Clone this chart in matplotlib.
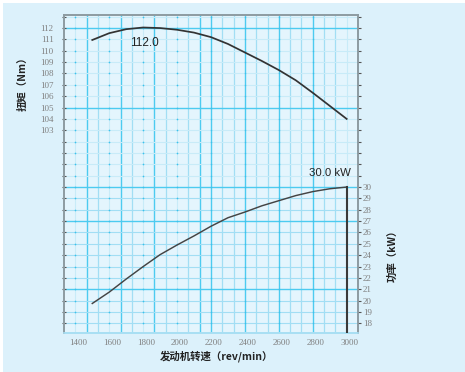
import numpy as np
import matplotlib
matplotlib.use("Agg")
import matplotlib.pyplot as plt
import matplotlib.transforms as mtransforms
from matplotlib.patches import Rectangle

plt.rcParams['font.family'] = ['Noto Sans CJK SC', 'DejaVu Sans']

# engine speed (rev/min)
rpm = [1500, 1600, 1700, 1800, 1900, 2000, 2100, 2200, 2300, 2400,
       2500, 2600, 2700, 2800, 2900, 3000]
# torque (Nm)
torque = [110.95, 111.55, 111.9, 112.05, 112.0, 111.85, 111.6, 111.2, 110.6, 109.85,
          109.1, 108.3, 107.4, 106.3, 105.15, 104.0]
# power (kW)
power = [19.75, 20.75, 21.9, 23.0, 24.05, 24.9, 25.7, 26.55, 27.3, 27.8,
         28.35, 28.8, 29.25, 29.6, 29.85, 30.0]

x_ticks = [1400, 1600, 1800, 2000, 2200, 2400, 2600, 2800, 3000]
torque_ticks = [103, 104, 105, 106, 107, 108, 109, 110, 111, 112]
power_ticks = [18, 19, 20, 21, 22, 23, 24, 25, 26, 27, 28, 29, 30]

torque_label = "112.0"
power_label = "30.0 kW"

BG = '#dcf1fb'
PLOT_BG = '#e4f5fd'
BRIGHT = '#4ccbf0'
MEDIUM = '#a2def4'
FAINT = '#c8ebf8'
DARK = '#333333'
TICK_COLOR = '#808080'

fig = plt.figure(figsize=(4.65, 3.72), dpi=100, facecolor=BG)
# thin white strips at the top and left edge
fig.patches.append(Rectangle((0, 1 - 3 / 372), 1, 3 / 372, transform=fig.transFigure,
                             facecolor='white', edgecolor='none', zorder=-1))
fig.patches.append(Rectangle((0, 0), 3 / 465, 1, transform=fig.transFigure,
                             facecolor='white', edgecolor='none', zorder=-1))

ax = fig.add_axes([64 / 465, 1 - 333 / 372, 294 / 465, 318 / 372])
ax.set_facecolor(PLOT_BG)
ax.set_xlim(1333.3, 3066.7)
ax.set_ylim(85.15, 113.15)
ax2 = ax.twinx()
ax2.set_ylim(17.15, 45.15)

# grid: cell = 200/3 rev/min by 1 Nm
step = 200 / 3
vlines = np.arange(1333.3 + step, 3066.7 - 1, step)
bright_v = [1466.7, 1666.7, 1866.7, 2133.3, 2200, 2400, 2600, 2800]
for v in vlines:
    on_tick = min(abs(v - t) for t in x_ticks) < 5
    if min(abs(v - b) for b in bright_v) < 5:
        ax.axvline(v, color=BRIGHT, lw=1.0, zorder=1)
    elif on_tick:
        ax.axvline(v, color=FAINT, lw=0.8, zorder=1)
    else:
        ax.axvline(v, color=MEDIUM, lw=0.9, zorder=1)

bright_h = [112, 105, 98, 95, 89]
for h in range(86, 114):
    if h in bright_h:
        ax.axhline(h, color=BRIGHT, lw=1.0, zorder=1)
    elif h >= 99:
        ax.axhline(h, color=FAINT, lw=0.8, zorder=1)
    else:
        ax.axhline(h, color=MEDIUM, lw=0.8, zorder=1)

dot_x, dot_y = np.meshgrid(x_ticks[:-1], np.arange(86, 114))
ax.scatter(dot_x.ravel(), dot_y.ravel(), s=1.5, color='#3cc2ec', lw=0, zorder=2)

# curves
ax.plot(rpm, torque, color=DARK, lw=1.25, zorder=4)
ax2.plot(rpm, power, color='#444444', lw=1.05, zorder=4)
ax2.plot([rpm[-1], rpm[-1]], [power[-1], 17.15], color='#3a3a3a', lw=1.5, zorder=4)

ax.text(1810, 110.7, torque_label, ha='center', va='center', fontsize=8.5,
        color='#222222', family=['Liberation Sans'], zorder=5)
ax2.text(2900, 31.25, power_label, ha='center', va='center', fontsize=8.2,
         color='#222222', family=['Liberation Sans'], zorder=5)

# axes / spines
for a in (ax, ax2):
    for s in a.spines.values():
        s.set_color('#8d9ba1')
        s.set_linewidth(1.2)
    a.spines['bottom'].set_color('#a8dff3')

ax.set_xticks(x_ticks)
ax.set_xticklabels([str(t) for t in x_ticks])
ax.tick_params(axis='x', length=0, pad=4, labelsize=6.5, labelcolor=TICK_COLOR)
offset = mtransforms.ScaledTranslation(3 / 100, 0, fig.dpi_scale_trans)
for lab in ax.get_xticklabels():
    lab.set_transform(lab.get_transform() + offset)
    lab.set_family(['Liberation Serif'])

ax.set_yticks(range(86, 114))
ax.set_yticklabels([str(t) if t in torque_ticks else '' for t in range(86, 114)])
ax.tick_params(axis='y', direction='inout', length=3, width=0.8, color='#555555',
               pad=6, labelsize=6.5, labelcolor=TICK_COLOR)
for lab in ax.get_yticklabels():
    lab.set_family(['Liberation Serif'])

ax2.set_yticks(range(18, 46))
ax2.set_yticklabels([str(t) if t in power_ticks else '' for t in range(18, 46)])
ax2.tick_params(axis='y', direction='out', length=2.5, width=0.8, color='#555555',
                pad=1, labelsize=6.5, labelcolor=TICK_COLOR)
for lab in ax2.get_yticklabels():
    lab.set_family(['Liberation Serif'])

fig.text(23 / 465, 1 - 81 / 372, "扭矩（Nm）", rotation=90, ha='center', va='center',
         fontsize=7.5, fontweight='bold', color='#222222')
fig.text(392 / 465, 1 - 253 / 372, "功率（kW）", rotation=90, ha='center', va='center',
         fontsize=7.5, fontweight='bold', color='#222222')
fig.text(216 / 465, 1 - 356 / 372, "发动机转速（rev/min）", ha='center', va='center',
         fontsize=7.5, fontweight='bold', color='#222222')

fig.savefig("out.png", dpi=100, facecolor=fig.get_facecolor())
